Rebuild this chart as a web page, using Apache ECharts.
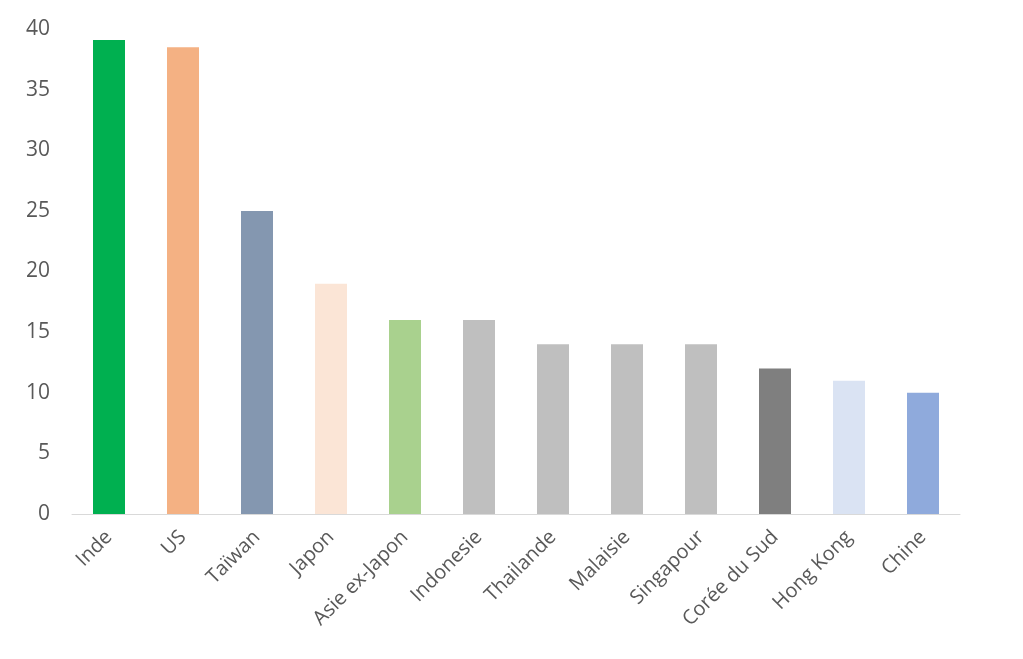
<!DOCTYPE html>
<html>
<head>
<meta charset="utf-8">
<script src="https://cdn.jsdelivr.net/npm/echarts@6/dist/echarts.min.js"></script>
<style>
  html, body { margin: 0; padding: 0; background: #fff; }
  #chart { width: 1023px; height: 659px; }
</style>
</head>
<body>
<div id="chart"></div>
<script>
const categories = ['Inde', 'US', 'Taïwan', 'Japon', 'Asie ex-Japon', 'Indonesie', 'Thailande', 'Malaisie', 'Singapour', 'Corée du Sud', 'Hong Kong', 'Chine'];
const values = [39.1, 38.5, 25, 19, 16, 16, 14, 14, 14, 12, 11, 10];
const barColors = ['#00B050', '#F4B183', '#8497B0', '#FBE5D6', '#A9D18E', '#BFBFBF', '#BFBFBF', '#BFBFBF', '#BFBFBF', '#7F7F7F', '#DAE3F3', '#8FAADC'];

const chart = echarts.init(document.getElementById('chart'));

chart.setOption({
  animation: false,
  textStyle: { fontFamily: 'Open Sans' },
  grid: { left: 72, right: 63, top: 29, bottom: 145, containLabel: false },
  xAxis: {
    type: 'category',
    data: categories,
    axisLine: { lineStyle: { color: '#D9D9D9', width: 1 } },
    axisTick: { show: false },
    axisLabel: {
      color: '#595959',
      fontSize: 20,
      rotate: 45,
      interval: 0,
      margin: 20
    }
  },
  yAxis: {
    type: 'value',
    min: 0,
    max: 40,
    interval: 5,
    splitLine: { show: false },
    axisLine: { show: false },
    axisTick: { show: false },
    axisLabel: { color: '#595959', fontSize: 21, margin: 22 }
  },
  series: [{
    type: 'bar',
    barWidth: 32,
    data: values.map((v, i) => ({ value: v, itemStyle: { color: barColors[i] } }))
  }]
});
</script>
</body>
</html>
